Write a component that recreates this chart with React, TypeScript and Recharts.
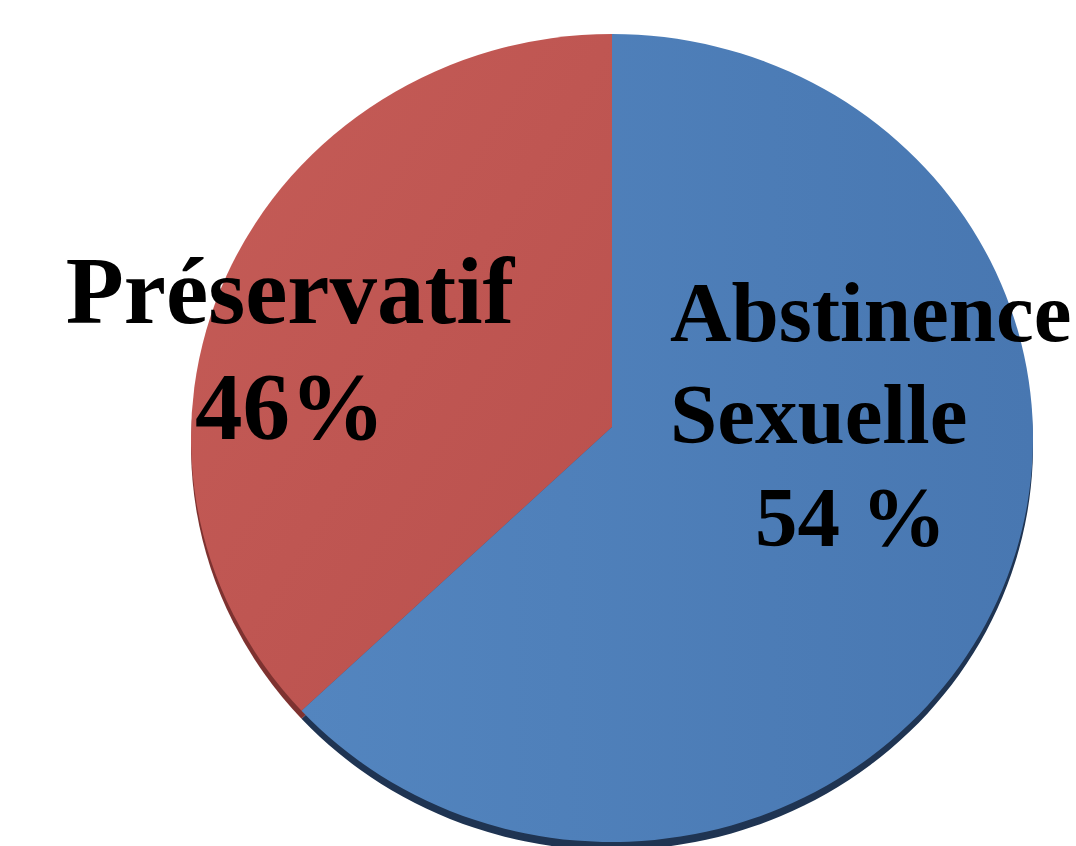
import { PieChart, Pie, Cell } from 'recharts';

// slice shares as drawn in the picture (the printed labels say 46 / 54)
const categories = ['Préservatif', 'Abstinence Sexuelle'];
const sliceShares = [36.8, 63.2];
const labelLines = [
  ['Préservatif', '46%'],
  ['Abstinence', 'Sexuelle', '54 %'],
];

const topColors = ['url(#redFace)', 'url(#blueFace)'];
const rimColors = ['#7e3230', '#1f3452'];

const data = categories.map((name, i) => ({ name, value: sliceShares[i] }));

const CX = 612;
const CY = 438;
const RX = 421;
const RY_RATIO = 404 / 421;
const VERTEX_LIFT = 11;
const DEPTH = 8;
const FONT = '"Liberation Serif", "Times New Roman", serif';

// elliptical sector so the pie looks tilted like the original
function EllipseSector(props: any) {
  const { cx, cy, outerRadius, startAngle, endAngle, fill } = props;
  const rx = outerRadius;
  const ry = outerRadius * RY_RATIO;
  const rad = Math.PI / 180;
  const vx = cx;
  const vy = cy - VERTEX_LIFT;
  const x1 = cx + rx * Math.cos(startAngle * rad);
  const y1 = cy - ry * Math.sin(startAngle * rad);
  const x2 = cx + rx * Math.cos(endAngle * rad);
  const y2 = cy - ry * Math.sin(endAngle * rad);
  const large = Math.abs(endAngle - startAngle) > 180 ? 1 : 0;
  const sweep = endAngle > startAngle ? 0 : 1;
  const d = `M${vx},${vy} L${x1},${y1} A${rx},${ry} 0 ${large} ${sweep} ${x2},${y2} Z`;
  return <path d={d} fill={fill} stroke="none" />;
}

const labelLayout = [
  { dx: -322, dy: [-115, 1], size: 95, anchor: 'middle', x: [0, 0] },
  { dx: 58, dy: [-97, 5, 108], size: 85, anchor: 'start', x: [0, 0, 85] },
];

function renderLabel(props: any) {
  const { index } = props;
  const lay = labelLayout[index];
  return (
    <g key={`lbl-${index}`}>
      {labelLines[index].map((line, j) => (
        <text
          key={j}
          x={CX + lay.dx + lay.x[j]}
          y={CY + lay.dy[j]}
          textAnchor={lay.anchor as any}
          fontFamily={FONT}
          fontWeight="bold"
          fontSize={lay.size}
          fill="#000"
        >
          {line}
        </text>
      ))}
    </g>
  );
}

export default function App() {
  return (
    <div style={{ position: 'absolute', left: 0, top: 0, width: 1076, height: 846, background: '#fff', overflow: 'hidden' }}>
      <PieChart width={1076} height={846} margin={{ top: 0, right: 0, bottom: 0, left: 0 }}>
        <defs>
          <linearGradient id="redFace" x1="0" y1="0" x2="1" y2="1">
            <stop offset="0%" stopColor="#c55c57" />
            <stop offset="100%" stopColor="#b9504d" />
          </linearGradient>
          <linearGradient id="blueFace" x1="0" y1="0" x2="1" y2="0">
            <stop offset="0%" stopColor="#5385bf" />
            <stop offset="100%" stopColor="#4877b1" />
          </linearGradient>
        </defs>
        <Pie
          data={data}
          dataKey="value"
          cx={CX}
          cy={CY + DEPTH}
          outerRadius={RX}
          startAngle={90}
          endAngle={450}
          stroke="none"
          isAnimationActive={false}
          shape={EllipseSector}
          inactiveShape={EllipseSector}
          activeShape={EllipseSector}
        >
          {data.map((_, i) => (
            <Cell key={i} fill={rimColors[i]} />
          ))}
        </Pie>
        <Pie
          data={data}
          dataKey="value"
          cx={CX}
          cy={CY}
          outerRadius={RX}
          startAngle={90}
          endAngle={450}
          stroke="none"
          isAnimationActive={false}
          shape={EllipseSector}
          inactiveShape={EllipseSector}
          activeShape={EllipseSector}
          labelLine={false}
          label={renderLabel}
        >
          {data.map((_, i) => (
            <Cell key={i} fill={topColors[i]} />
          ))}
        </Pie>
      </PieChart>
    </div>
  );
}
